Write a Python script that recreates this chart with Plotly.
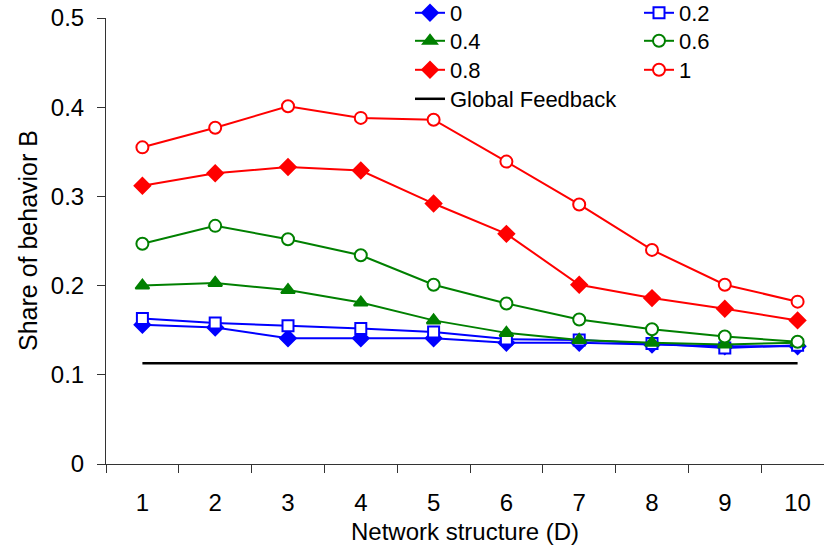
import plotly.graph_objects as go

categories = [1, 2, 3, 4, 5, 6, 7, 8, 9, 10]
tick_labels = ["1", "2", "3", "4", "5", "6", "7", "8", "9", "10"]

s_0 = [0.156, 0.153, 0.141, 0.141, 0.141, 0.136, 0.136, 0.134, 0.132, 0.132]
s_02 = [0.163, 0.158, 0.155, 0.152, 0.148, 0.140, 0.139, 0.135, 0.130, 0.133]
s_04 = [0.200, 0.203, 0.195, 0.181, 0.161, 0.147, 0.139, 0.136, 0.134, 0.136]
s_06 = [0.247, 0.267, 0.252, 0.234, 0.201, 0.180, 0.162, 0.151, 0.143, 0.137]
s_08 = [0.312, 0.326, 0.333, 0.329, 0.292, 0.258, 0.201, 0.186, 0.174, 0.161]
s_1 = [0.355, 0.377, 0.401, 0.388, 0.386, 0.339, 0.291, 0.240, 0.201, 0.182]
global_feedback = [0.113, 0.113, 0.113, 0.113, 0.113, 0.113, 0.113, 0.113, 0.113, 0.113]

y_ticks = [0, 0.1, 0.2, 0.3, 0.4, 0.5]
cat_bounds = [0.5, 1.5, 2.5, 3.5, 4.5, 5.5, 6.5, 7.5, 8.5, 9.5, 10.5]

FONT = "Liberation Sans, Arial, Helvetica, sans-serif"
BLUE = "#0000FF"
GREEN = "#008000"
RED = "#FF0000"

W, H = 824, 548
ML, MT, MB = 106, 18, 84
PLOT_W = W - ML

# (name, values, colour, symbol, fill, size, legend column, legend row)
series = [
    ("0", s_0, BLUE, "diamond", BLUE, 12, 0, 0),
    ("0.2", s_02, BLUE, "square", "white", 11, 1, 0),
    ("0.4", s_04, GREEN, "triangle-up", GREEN, 12, 0, 1),
    ("0.6", s_06, GREEN, "circle", "white", 12, 1, 1),
    ("0.8", s_08, RED, "diamond", RED, 12, 0, 2),
    ("1", s_1, RED, "circle", "white", 12, 1, 2),
]

col_text_x = [451, 680]   # pixel x of legend text
row_y = [13, 41, 70, 99]  # pixel y of legend rows

def leg_pos(c, r):
    return ((col_text_x[c] - 41) / W, 1 - row_y[r] / H)

fig = go.Figure()
legends = {}
for i, (name, vals, col, sym, fill, size, c, r) in enumerate(series):
    lg = "legend" if i == 0 else f"legend{i + 1}"
    legends[lg] = leg_pos(c, r)
    fig.add_trace(go.Scatter(
        x=categories, y=vals, name=name, mode="lines+markers",
        line=dict(color=col, width=2),
        marker=dict(symbol=sym, size=size, color=fill, line=dict(color=col, width=2)),
        legend=lg,
    ))

legends["legend7"] = leg_pos(0, 3)
fig.add_trace(go.Scatter(
    x=categories, y=global_feedback, name="Global Feedback", mode="lines",
    line=dict(color="black", width=2.5), legend="legend7",
))

legend_layout = {}
for lg, (lx, ly) in legends.items():
    legend_layout[lg] = dict(
        x=lx, y=ly, xref="container", yref="container",
        xanchor="left", yanchor="middle",
        bgcolor="rgba(0,0,0,0)", borderwidth=0,
        font=dict(family=FONT, size=22, color="black"),
    )

fig.update_layout(
    width=W, height=H,
    margin=dict(l=ML, r=0, t=MT, b=MB, autoexpand=False),
    paper_bgcolor="white", plot_bgcolor="white",
    font=dict(family=FONT, size=24, color="black"),
    showlegend=True,
    xaxis=dict(
        range=[0.5, 0.5 + PLOT_W / 72.8], tickmode="array", tickvals=categories,
        ticktext=tick_labels,
        ticks="", showline=True, linecolor="#333", linewidth=1,
        showgrid=False, zeroline=False, ticklabelstandoff=17,
        tickfont=dict(size=24),
        minor=dict(tickmode="array", tickvals=cat_bounds, ticks="outside",
                   ticklen=8, tickcolor="#333", tickwidth=1, showgrid=False),
        title=dict(text="Network structure (D)", font=dict(size=24), standoff=8),
        automargin=False,
    ),
    yaxis=dict(
        range=[0, 0.5], tickmode="array", tickvals=y_ticks,
        ticks="outside", ticklen=8, tickcolor="#333", tickwidth=1,
        showline=True, linecolor="#333", linewidth=1,
        showgrid=False, zeroline=False, ticklabelstandoff=8,
        tickfont=dict(size=24), ticklabeloverflow="allow",
        automargin=False,
    ),
    annotations=[dict(
        text="Share of behavior B", textangle=-90,
        xref="paper", yref="paper", x=(28 - ML) / PLOT_W, y=0.5,
        xanchor="center", yanchor="middle", showarrow=False,
        font=dict(family=FONT, size=25, color="black"),
    )],
    **legend_layout,
)

fig.write_html("out.html", config={"displayModeBar": False},
               post_script="document.body.style.margin='0';")
